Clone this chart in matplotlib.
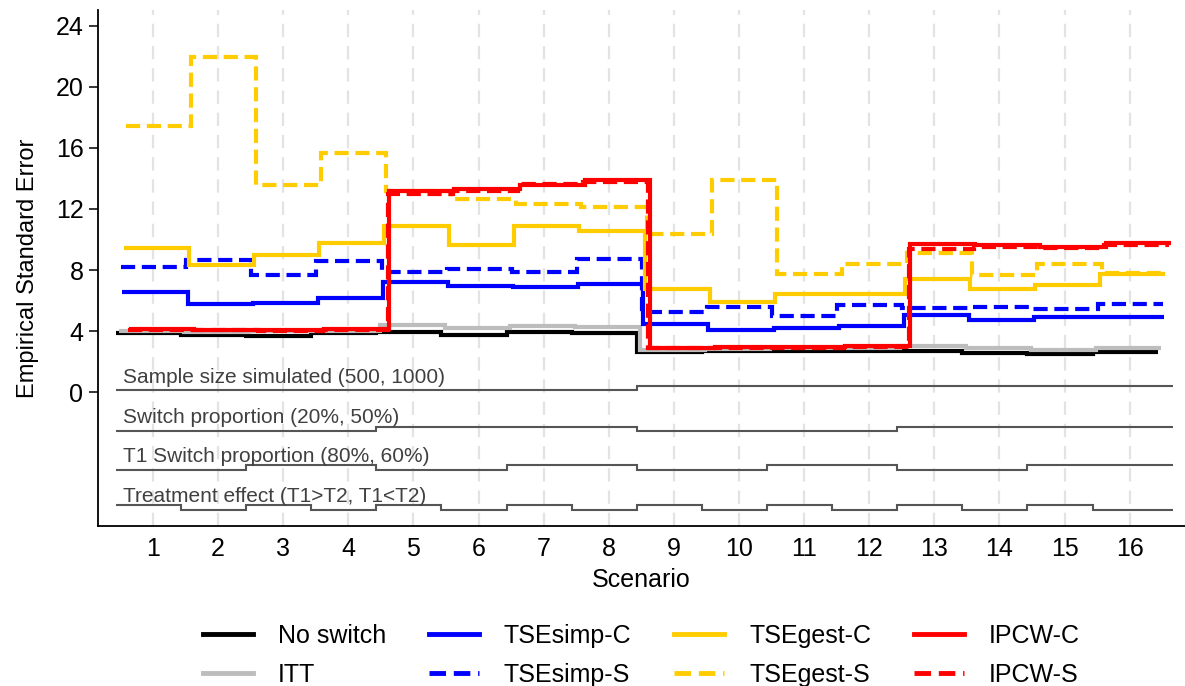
import matplotlib
matplotlib.use("Agg")
import matplotlib.pyplot as plt
import numpy as np

plt.rcParams["font.family"] = ["Liberation Sans", "DejaVu Sans"]

# ── Data ──────────────────────────────────────────────────────────────────────
scenarios = np.arange(1, 17)

no_switch  = [3.85, 3.78, 3.70, 3.85, 3.96, 3.75, 3.96, 3.85,
              2.63, 2.68, 2.70, 2.72, 2.69, 2.58, 2.54, 2.63]
itt        = [4.00, 3.96, 3.98, 4.00, 4.39, 4.20, 4.33, 4.26,
              2.80, 2.84, 2.88, 2.92, 3.06, 2.91, 2.80, 2.91]
tse_simp_c = [6.57, 5.76, 5.87, 6.18, 7.22, 6.94, 6.90, 7.07,
              4.50, 4.10, 4.24, 4.36, 5.05, 4.72, 4.94, 4.94]
tse_simp_s = [8.20, 8.64, 7.66, 8.58, 7.88, 8.10, 7.88, 8.75,
              5.26, 5.59, 4.98, 5.70, 5.55, 5.59, 5.42, 5.80]
tse_gest_c = [9.47, 8.31, 8.97, 9.77, 10.88, 9.62, 10.88, 10.56,
              6.79, 5.92, 6.42, 6.46, 7.44, 6.79, 7.00, 7.73]
tse_gest_s = [17.40, 21.93, 13.54, 15.68, 13.20, 12.67, 12.34, 12.10,
              10.38, 13.87, 7.73, 8.42, 9.14, 7.66, 8.42, 7.81]
ipcw_c     = [4.15, 4.10, 4.05, 4.17, 13.20, 13.32, 13.54, 13.90,
              2.92, 2.95, 2.98, 3.00, 9.73, 9.62, 9.50, 9.77]
ipcw_s     = [4.10, 4.05, 4.00, 4.10, 13.00, 13.17, 13.65, 13.76,
              2.88, 2.90, 2.92, 2.95, 9.40, 9.50, 9.47, 9.62]

# nested-loop design indicators (0 = first level, 1 = second level)
sample_size   = [0] * 8 + [1] * 8
switch_prop   = ([0] * 4 + [1] * 4) * 2
t1_switch     = [0, 0, 1, 1] * 4
treat_effect  = [1, 0] * 8

indicator_labels = ["Sample size simulated (500, 1000)",
                    "Switch proportion (20%, 50%)",
                    "T1 Switch proportion (80%, 60%)",
                    "Treatment effect (T1>T2, T1<T2)"]

# ── Styles ────────────────────────────────────────────────────────────────────
BLUE, GOLD, RED, GREY = "#0000ff", "#ffcc00", "#ff0000", "#bdbdbd"
DASH = (0, (3.4, 1.6))
series = [
    # label,       values,      colour,  style,   x-offset
    ("No switch",  no_switch,  "black", "-",  -0.07),
    ("ITT",        itt,        GREY,    "-",  -0.02),
    ("TSEsimp-C",  tse_simp_c, BLUE,    "-",   0.03),
    ("TSEsimp-S",  tse_simp_s, BLUE,    DASH,  0.01),
    ("TSEgest-C",  tse_gest_c, GOLD,    "-",   0.05),
    ("TSEgest-S",  tse_gest_s, GOLD,    DASH,  0.08),
    ("IPCW-C",     ipcw_c,     RED,     "-",   0.13),
    ("IPCW-S",     ipcw_s,     RED,     DASH,  0.11),
]
draw_order = [0, 1, 2, 3, 4, 5, 7, 6]

fig = plt.figure(figsize=(11.85, 6.86), dpi=100)
ax = fig.add_axes([0.0827, 0.2332, 0.9173, 0.7518])

edges = np.append(scenarios - 0.5, scenarios[-1] + 0.5)

# vertical dashed grid
for s in scenarios:
    ax.axvline(s, color="#e3e3e3", lw=1.6, ls=(0, (6, 4)), zorder=0)

for i in draw_order:
    label, vals, col, ls, off = series[i]
    ax.stairs(vals, edges + off, baseline=None, color=col,
              linestyle=ls, lw=3.0, label=label, zorder=2 + i)

# indicator step lines under the curves
ind_base = [0.13, -2.53, -5.06, -7.68]
ind_step = 0.28
ind_edges = edges - 0.07
ind_edges[-1] += 0.23
for levels, base, text in zip([sample_size, switch_prop, t1_switch, treat_effect],
                              ind_base, indicator_labels):
    ax.stairs(base + ind_step * np.array(levels), ind_edges, baseline=None,
              color="#555555", lw=1.5, zorder=1)
    ax.text(0.54, base + 0.5, text, fontsize=15, color="#404040",
            va="baseline", ha="left", zorder=1)

ax.set_xlim(0.155, 16.85)
ax.set_ylim(-8.75, 25)
ax.set_yticks(np.arange(0, 25, 4))
ax.set_xticks(scenarios)
ax.tick_params(axis="y", labelsize=18, length=6.5, width=1.1, pad=4)
ax.tick_params(axis="x", labelsize=18, length=0, pad=8)
for side in ("top", "right"):
    ax.spines[side].set_visible(False)
for side in ("left", "bottom"):
    ax.spines[side].set_linewidth(1.3)

ax.set_xlabel("Scenario", fontsize=18, labelpad=5)
ax.set_ylabel("Empirical Standard Error", fontsize=17, labelpad=12)

leg_handles = [plt.Line2D([], [], color=s[2], ls=s[3], lw=3.5) for s in series]
fig.legend(leg_handles, [s[0] for s in series], ncol=4, loc="upper left",
           bbox_to_anchor=(0.163, 0.105), frameon=False, fontsize=18,
           handlelength=2.0, handletextpad=1.0, columnspacing=1.7,
           labelspacing=0.6, borderaxespad=0)

fig.savefig("out.png", dpi=100)
